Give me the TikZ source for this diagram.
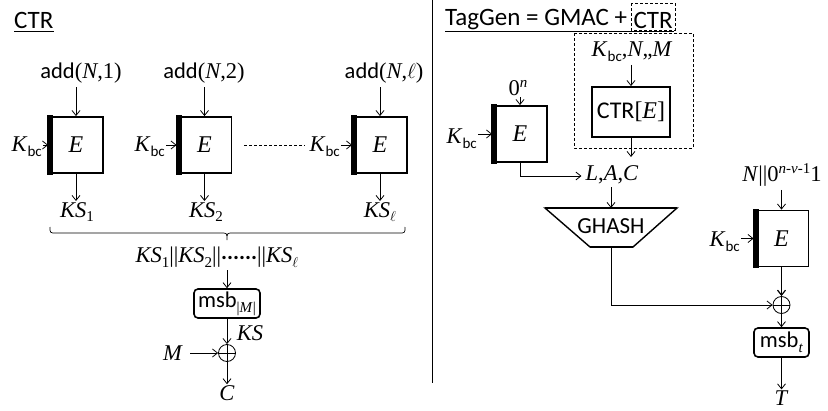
\documentclass[tikz,border=0pt]{standalone}
\usepackage{fontspec}
\setmainfont{Liberation Serif}
\newfontfamily\cfont{Carlito}
\usetikzlibrary{arrows.meta,calc}
\newcommand\mi[1]{\textit{#1}}
\newcommand\lo[1]{\raisebox{-0.45ex}{\fontsize{15}{15}\selectfont #1}}
\newcommand\hi[1]{\raisebox{0.85ex}{\fontsize{15}{15}\selectfont #1}}
\newcommand\kbc{\mi{K}\lo{\cfont bc}}
\newcommand\bigE{{\fontsize{24}{26}\selectfont\mi{E}}}
\newcommand\lbar[1]{\fill ([xshift=-0.9pt,yshift=0.9pt]#1.north west) rectangle ([xshift=5pt,yshift=-0.9pt]#1.south west);}
\begin{document}
\begin{tikzpicture}[x=1pt,y=-1pt,font=\fontsize{22.5}{24}\selectfont,
  arr/.style={-{Straight Barb[length=5pt,width=8pt]},line width=0.8pt},
  ebox/.style={draw,line width=1.8pt,minimum width=54pt,minimum height=56pt,inner sep=0pt},
  lbl/.style={inner sep=0pt},
  rbox/.style={draw,rounded corners=4pt,line width=1.6pt,minimum height=29pt,inner sep=1pt},
  xorn/.style={circle,draw,line width=0.8pt,minimum size=17pt,inner sep=0pt,
    path picture={\draw[line width=0.8pt] (path picture bounding box.north) -- (path picture bounding box.south)
      (path picture bounding box.west) -- (path picture bounding box.east);}},
  dsh/.style={line width=0.7pt,dash pattern=on 3pt off 2pt}]
\useasboundingbox (0,0) rectangle (828,410);

% ---------- left: CTR ----------
\node[lbl,anchor=west] (ttl) at (14,20) {\fontsize{25}{27}\selectfont\cfont CTR};
\draw[line width=0.8pt] (ttl.west |- 0,31) -- (ttl.east |- 0,31);

\node[ebox] (b1) at (76,145) {\bigE}; \lbar{b1}
\node[ebox] (b2) at (204.5,145) {\bigE}; \lbar{b2}
\node[ebox] (b3) at (380,145) {\bigE}; \lbar{b3}

\node[lbl] (a1) at (81,73) {{\cfont add}(\mi{N},1)};
\node[lbl] (a2) at (204,73) {{\cfont add}(\mi{N},2)};
\node[lbl] (a3) at (384,73) {{\cfont add}(\mi{N},$\ell$)};
\foreach \i in {1,2,3}{
  \draw[arr] ($(a\i.south -| b\i.north)+(0,4)$) -- (b\i.north);
}

\node[lbl,anchor=east] (k1) at (42,147) {\kbc};
\node[lbl,anchor=east] (k2) at (165,147) {\kbc};
\node[lbl,anchor=east] (k3) at (340,147) {\kbc};
\foreach \i in {1,2,3}{
  \draw[arr] ($(k\i.east |- b\i.west)+(1,0)$) -- (b\i.west);
}
\draw[dsh] ($(b2.east)+(12,0)$) -- ($(k3.west |- b2.east)+(-4,0)$);

\node[lbl] (s1) at (77,212) {\mi{KS}\lo{1}};
\node[lbl] (s2) at (206,212) {\mi{KS}\lo{2}};
\node[lbl] (s3) at (380,212) {\mi{KS}\lo{$\ell$}};
\foreach \i in {1,2,3}{
  \draw[arr] (b\i.south) -- ($(b\i.south |- s\i.north)+(0,-1)$);
}

% brace
\draw[line width=0.7pt] (50,227) .. controls (50,233) .. (56,233) -- (221,233)
  .. controls (227,233) .. (227,240) .. controls (227,233) .. (233,233) -- (399,233)
  .. controls (405,233) .. (405,227);

\node[lbl] (cat) at (217,257) {\mi{KS}\lo{1}||\mi{KS}\lo{2}||{\cfont\bfseries\raisebox{0.25ex}{......}}||\mi{KS}\lo{$\ell$}};
\node[rbox,minimum width=66pt] (msb) at (227,303.5) {{\cfont msb}\lo{|\mi{M}|}};
\draw[arr] ($(cat.south -| msb.north)+(0,3)$) -- (msb.north);

\node[xorn] (x1) at (227,353) {};
\draw[arr] (msb.south) -- (x1.north);
\node[lbl] (ks) at (250,333) {\mi{KS}};
\node[lbl,anchor=east] (m) at (183,353) {\mi{M}};
\draw[arr] ($(m.east)+(7,0)$) -- (x1.west);
\node[lbl] (c) at (227,393) {\mi{C}};
\draw[arr] (x1.south) -- ($(c.north)+(0,-1)$);

% divider
\draw[line width=1pt] (432,0) -- (432,383);

% ---------- right: TagGen ----------
\node[lbl,anchor=west] (tg) at (445,20) {\fontsize{25}{27}\selectfont\cfont TagGen = GMAC +};
\node[lbl,anchor=west] (tg2) at ($(tg.east)+(6,0)$) {\fontsize{25}{27}\selectfont\cfont CTR};
\draw[line width=0.8pt] (tg.west |- 0,31) -- ($(tg2.east |- 0,31)+(1,0)$);
\draw[dsh] ($(tg2.west |- 0,3)+(-2,0)$) rectangle ($(tg2.east |- 0,30)+(2,0)$);

\draw[dsh] (574,33) rectangle (693,148);
\node[lbl] (kn) at (632,52) {\kbc,\mi{N},,\mi{M}};
\node[draw,line width=1.8pt,minimum width=78pt,minimum height=50pt,inner sep=0pt] (ctr) at (631,112) {{\fontsize{24}{26}\selectfont{\cfont CTR}[\mi{E}]}};
\draw[arr] ($(kn.south -| ctr.north)+(0,3)$) -- (ctr.north);
\coordinate (ctrout) at (631,157);
\draw[arr] (ctr.south) -- (ctrout);

\node[lbl] (lac) at (612,175) {\mi{L},\mi{A},\mi{C}};

\node[ebox] (e2) at (520,134) {\bigE}; \lbar{e2}
\node[lbl] (zn) at (518,88) {0\hi{\mi{n}}};
\draw[arr] ($(zn.south -| e2.north)+(0,1)$) -- (e2.north);
\node[lbl,anchor=east] (k4) at (477,139) {\kbc};
\draw[arr] ($(k4.east |- e2.west)+(1,0)$) -- (e2.west);
\draw[arr] (e2.south) |- ($(lac.west)+(-4,1)$);

\coordinate (ghT) at (611,208);
\coordinate (ghB) at (611,247);
\node[lbl] (gh) at (611,226) {\fontsize{23}{25}\selectfont\cfont GHASH};
\draw[line width=1.4pt,line join=miter] (545,208) -- (677,208) -- (633,247) -- (590,247) -- cycle;
\draw[line width=2.4pt] (545,208) -- (677,208) (633,247) -- (590,247);
\draw[arr] ($(lac.south -| ghT)+(0,3)$) -- (ghT);

\node[ebox] (e3) at (781.5,238.5) {\bigE}; \lbar{e3}
\node[lbl] (nz) at (782,175) {\mi{N}||0\hi{\mi{n}-\mi{ν}-1}1};
\draw[arr] ($(nz.south -| e3.north)+(0,3)$) -- (e3.north);
\node[lbl,anchor=east] (k5) at (740,242) {\kbc};
\draw[arr] ($(k5.east |- e3.west)+(1,0)$) -- (e3.west);

\node[xorn] (x2) at (781.5,305) {};
\draw[arr,line width=1.2pt] (e3.south) -- (x2.north);
\draw[arr] (ghB) |- (x2.west);
\node[rbox,minimum width=55pt] (mt) at (781.5,342.5) {{\cfont msb}\lo{\mi{t}}};
\draw[arr] (x2.south) -- (mt.north);
\node[lbl] (t) at (781.5,398) {\mi{T}};
\draw[arr] (mt.south) -- ($(t.north)+(0,-1)$);
\end{tikzpicture}
\end{document}
